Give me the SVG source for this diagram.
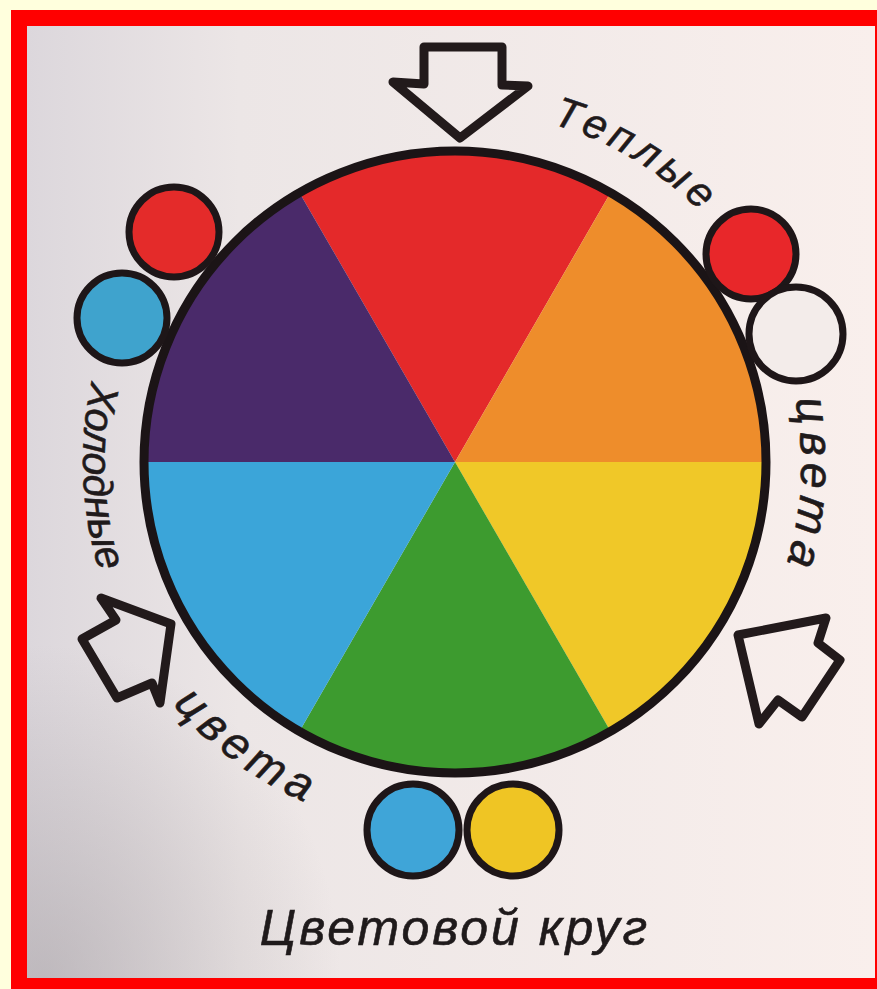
<svg xmlns="http://www.w3.org/2000/svg" width="877" height="989" viewBox="0 0 877 989">
  <defs>
    <linearGradient id="paper" x1="0" y1="0" x2="1" y2="0">
      <stop offset="0" stop-color="#dcd7dc"/>
      <stop offset="0.25" stop-color="#ece6e6"/>
      <stop offset="1" stop-color="#f9efec"/>
    </linearGradient>
    <radialGradient id="shade" cx="0.02" cy="1" r="0.35">
      <stop offset="0" stop-color="#a09a9e" stop-opacity="0.5"/>
      <stop offset="1" stop-color="#a09a9e" stop-opacity="0"/>
    </radialGradient>
    <path id="arcWarm" d="M 516.1 115.3 A 350 350 0 0 1 758.1 287"/>
    <path id="arcRight" d="M 753.3 288 A 348 348 0 0 1 721.6 685.7"/>
    <path id="arcLeft" d="M 105.4 334.8 A 372 372 0 0 0 390.4 828.3"/>
    <style>
      .edge { stroke: #1b1416; stroke-width: 9; }
      .dot { stroke: #1e1618; stroke-width: 7; }
      .arrow { fill: none; stroke: #221a1b; stroke-width: 9; stroke-linejoin: round; }
      .lbl { font-family: "Liberation Sans", "DejaVu Sans", sans-serif; font-style: italic; fill: #1f1a1b; stroke: #1f1a1b; stroke-width: 0.6; }
    </style>
  </defs>

  <rect x="0" y="0" width="877" height="989" fill="#ffffdd"/>
  <rect x="11" y="10" width="866" height="979" fill="#ff0000"/>
  <rect x="27" y="26" width="848" height="952" fill="url(#paper)"/>
  <rect x="27" y="26" width="848" height="952" fill="url(#shade)"/>

  <g id="wheel">
    <path d="M455 462 L299.5 192.7 A311 311 0 0 1 610.5 192.7 Z" fill="#e4292a"/>
    <path d="M455 462 L610.5 192.7 A311 311 0 0 1 766 462 Z" fill="#ee8d2b"/>
    <path d="M455 462 L766 462 A311 311 0 0 1 610.5 731.3 Z" fill="#f0c828"/>
    <path d="M455 462 L610.5 731.3 A311 311 0 0 1 299.5 731.3 Z" fill="#3d9b2f"/>
    <path d="M455 462 L299.5 731.3 A311 311 0 0 1 144 462 Z" fill="#3ba5d9"/>
    <path d="M455 462 L144 462 A311 311 0 0 1 299.5 192.7 Z" fill="#4a2a6a"/>
    <circle cx="455" cy="462" r="311" fill="none" class="edge"/>
  </g>

  <g id="circle-red-left"><circle cx="174" cy="232" r="45" fill="#e42b2a" class="dot"/></g>
  <g id="circle-blue-left"><circle cx="122" cy="318" r="45" fill="#3fa3cd" class="dot"/></g>
  <g id="circle-red-right"><circle cx="751" cy="254" r="45" fill="#e8272a" class="dot"/></g>
  <g id="circle-white-right"><circle cx="796" cy="334" r="47" fill="#f3ecea" class="dot"/></g>
  <g id="circle-blue-bottom"><circle cx="413" cy="830" r="46" fill="#3fa5d8" class="dot"/></g>
  <g id="circle-yellow-bottom"><circle cx="513" cy="830" r="46" fill="#efc524" class="dot"/></g>

  <g id="arrows">
    <polygon id="arrow-top" class="arrow" points="424,47 502,47 502,85 528,86 460,138 393,82 424,84"/>
    <polygon id="arrow-right" class="arrow" points="738,635 826,618 818,643 840,660 802,717 778,700 759,724"/>
    <polygon id="arrow-left" class="arrow" points="171,624 101,598 116,620 82,639 117,698 152,683 160,703"/>
  </g>

  <g id="labels">
    <text class="lbl" font-size="42" letter-spacing="5" text-anchor="middle"><textPath href="#arcWarm" startOffset="126">Теплые</textPath></text>
    <text class="lbl" font-size="46" letter-spacing="7" text-anchor="middle"><textPath href="#arcRight" startOffset="206">цвета</textPath></text>
    <text class="lbl" font-size="41" letter-spacing="0" text-anchor="middle"><textPath href="#arcLeft" startOffset="145">Холодные</textPath></text>
    <text class="lbl" font-size="46" letter-spacing="7" text-anchor="middle"><textPath href="#arcLeft" startOffset="480">цвета</textPath></text>
    <text class="lbl" x="455" y="945" font-size="50" letter-spacing="3" text-anchor="middle">Цветовой круг</text>
  </g>
</svg>
